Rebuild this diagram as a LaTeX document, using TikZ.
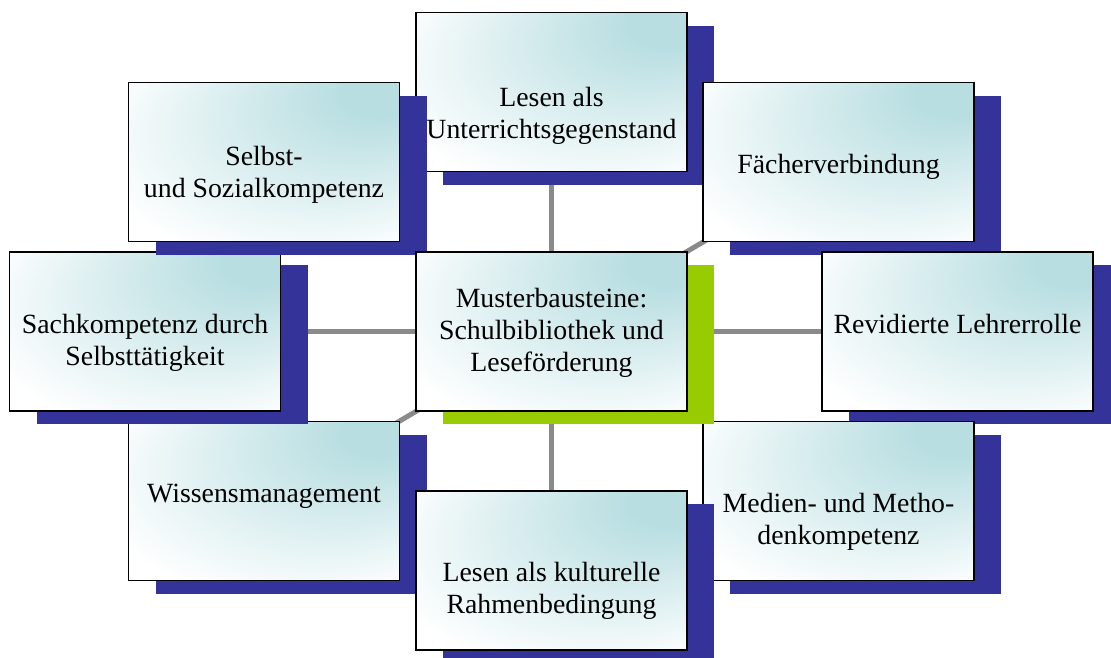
\documentclass[tikz,border=0pt]{standalone}
\usepackage{fontspec}
\setmainfont{Liberation Serif}
\usetikzlibrary{shadows,backgrounds}
\definecolor{tealc}{RGB}{184,222,225}
\definecolor{shblue}{RGB}{51,51,153}
\definecolor{shgreen}{RGB}{153,204,0}
\definecolor{linkgray}{RGB}{138,138,138}
\pgfdeclareradialshading{boxshade}{\pgfpoint{25bp}{25bp}}{color(0bp)=(tealc); color(7bp)=(tealc); color(38bp)=(white); color(50bp)=(white)}
\tikzset{
  box/.style={draw=black, line width=1.8pt, shade, shading=boxshade,
    minimum width=271pt, minimum height=159pt, inner sep=0pt, outer sep=0pt},
  blueshadow/.style={general shadow={fill=shblue, shadow xshift=27pt, shadow yshift=-13pt}},
  greenshadow/.style={general shadow={fill=shgreen, shadow xshift=27pt, shadow yshift=-13pt}},
  txt/.style={align=center, font=\fontsize{27.8}{32}\selectfont, inner sep=0pt, text=black},
  link/.style={draw=linkgray, line width=5pt}
}
\begin{document}
\begin{tikzpicture}[x=1pt, y=-1pt]
\useasboundingbox (0,0) rectangle (1111,657);
% boxes in stacking order
\node[box, blueshadow] (lesen) at (551.5,92) {};
\node[txt] (tlesen) at ([yshift=-24pt]lesen.center) {Lesen als\\Unterrichtsgegenstand};
\node[box, blueshadow] (faecher) at (838.5,162) {};
\node[txt] (tfaecher) at ([yshift=-4.5pt]faecher.center) {Fächerverbindung};
\node[box, blueshadow] (revid) at (957.5,331.5) {};
\node[txt] (trevid) at ([yshift=8pt]revid.center) {Revidierte Lehrerrolle};
\node[box, blueshadow] (medien) at (838.5,501) {};
\node[txt] (tmedien) at ([yshift=-21pt]medien.center) {Medien- und Metho-\\denkompetenz};
\node[box, blueshadow] (wissen) at (264,501) {};
\node[txt] (twissen) at ([yshift=4.5pt]wissen.center) {Wissensmanagement};
\node[box, blueshadow] (kultur) at (551.5,570.5) {};
\node[txt] (tkultur) at ([yshift=-20.5pt]kultur.center) {Lesen als kulturelle\\Rahmenbedingung};
\node[box, blueshadow] (sach) at (145,331.5) {};
\node[txt] (tsach) at ([yshift=-11.5pt]sach.center) {Sachkompetenz durch\\Selbsttätigkeit};
\node[box, blueshadow] (selbst) at (264,162) {};
\node[txt] (tselbst) at ([yshift=-12.5pt]selbst.center) {Selbst-\\und Sozialkompetenz};
\node[box, greenshadow] (mitte) at (551.5,331.5) {};
\node[txt] (tmitte) at ([yshift=-1pt]mitte.center) {Musterbausteine:\\Schulbibliothek und\\Leseförderung};
% connectors behind everything
\begin{pgfonlayer}{background}
\foreach \n in {lesen,faecher,revid,medien,wissen,kultur,sach,selbst}
  \draw[link] (mitte.center) -- (\n.center);
\end{pgfonlayer}
\end{tikzpicture}
\end{document}
